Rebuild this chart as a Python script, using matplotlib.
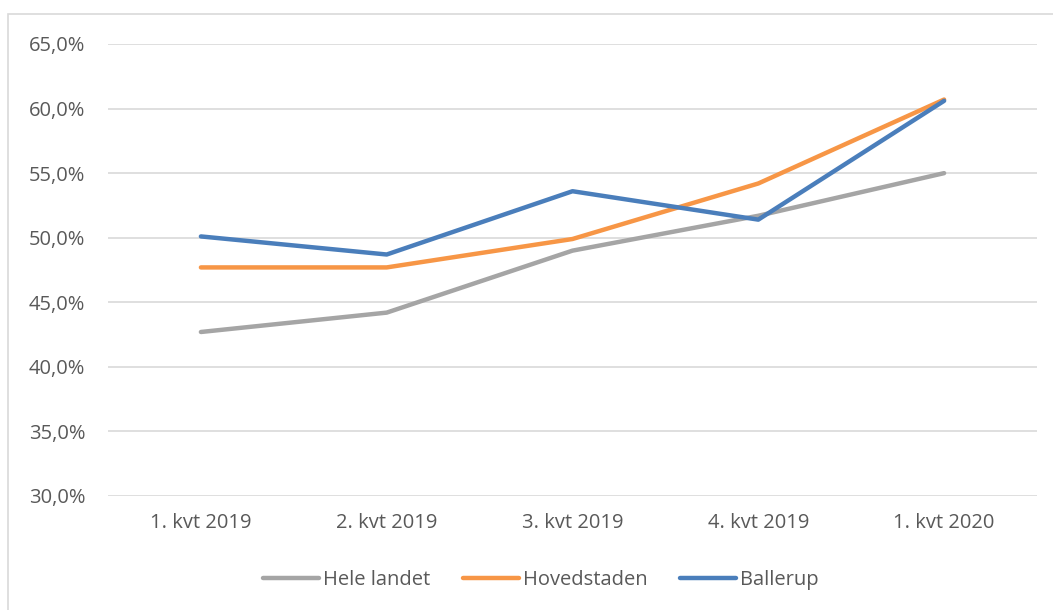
import matplotlib.pyplot as plt
from matplotlib.patches import Rectangle
from matplotlib.ticker import FuncFormatter

quarters = ["1. kvt 2019", "2. kvt 2019", "3. kvt 2019", "4. kvt 2019", "1. kvt 2020"]
hele_landet = [42.7, 44.2, 49.0, 51.7, 55.0]
hovedstaden = [47.7, 47.7, 49.9, 54.2, 60.7]
ballerup = [50.1, 48.7, 53.6, 51.4, 60.6]

plt.rcParams['font.family'] = ['Open Sans', 'DejaVu Sans']
text_color = "#595959"

fig = plt.figure(figsize=(10.53, 6.10), dpi=100)
# chart area border (only top and left edges fall inside the picture)
fig.patches.append(Rectangle((8 / 1053, -0.1), 1.2, 1 - 14 / 610 + 0.1,
                             transform=fig.transFigure, fill=False,
                             edgecolor="#D9D9D9", linewidth=1.2))

ax = fig.add_axes([108 / 1053, 1 - 496 / 610, 929 / 1053, 452 / 610])
x = range(len(quarters))
ax.plot(x, hele_landet, color="#A5A5A5", lw=3.2, label="Hele landet", solid_capstyle="round")
ax.plot(x, hovedstaden, color="#F79646", lw=3.2, label="Hovedstaden", solid_capstyle="round")
ax.plot(x, ballerup, color="#4A7EBB", lw=3.2, label="Ballerup", solid_capstyle="round")

ax.set_xlim(-0.5, 4.5)
ax.set_ylim(30, 65)
ax.set_yticks(range(30, 66, 5))
ax.yaxis.set_major_formatter(FuncFormatter(lambda v, p: f"{v:.1f}%".replace(".", ",")))
ax.set_xticks(list(x))
ax.set_xticklabels(quarters)
ax.grid(axis="y", color="#D9D9D9", lw=1.2)
ax.set_axisbelow(True)
for s in ax.spines.values():
    s.set_visible(False)
ax.tick_params(length=0, labelsize=14.5, colors=text_color, pad=12)
ax.tick_params(axis="y", pad=16.5)

fig.legend(loc="center", bbox_to_anchor=(541 / 1053, 1 - 580 / 610), ncol=3,
           frameon=False, fontsize=14.5, labelcolor=text_color, handlelength=2.8,
           handletextpad=0.2, columnspacing=1.6)

fig.savefig("out.png", dpi=100)
